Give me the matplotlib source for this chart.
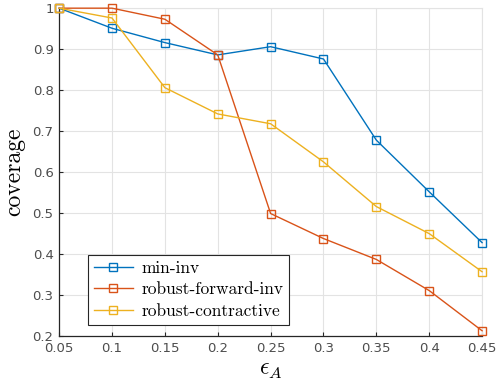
import matplotlib
matplotlib.use("Agg")
import matplotlib.pyplot as plt

plt.rcParams["mathtext.fontset"] = "cm"

eps = [0.05, 0.1, 0.15, 0.2, 0.25, 0.3, 0.35, 0.4, 0.45]
min_inv = [1.0, 0.951, 0.916, 0.886, 0.906, 0.876, 0.678, 0.552, 0.428]
robust_forward_inv = [1.0, 1.0, 0.973, 0.886, 0.499, 0.438, 0.387, 0.311, 0.213]
robust_contractive = [1.0, 0.976, 0.806, 0.742, 0.718, 0.625, 0.516, 0.450, 0.357]

labels = ["min-inv", "robust-forward-inv", "robust-contractive"]
colors = ["#0072BD", "#D95319", "#EDB120"]

fig = plt.figure(figsize=(4.97, 3.89), dpi=100)
ax = fig.add_axes([0.119, 0.136, 0.851, 0.843])

for ys, lab, c in zip([min_inv, robust_forward_inv, robust_contractive], labels, colors):
    ax.plot(eps, ys, color=c, lw=1.0, marker="s", ms=5.5, mfc="none", mec=c,
            mew=1.0, label=lab, clip_on=False, zorder=3)

ax.set_xlim(0.05, 0.45)
ax.set_ylim(0.2, 1.0)
ax.set_xticks(eps)
ax.set_xticklabels([f"{v:g}" for v in eps])
ax.set_yticks([0.2, 0.3, 0.4, 0.5, 0.6, 0.7, 0.8, 0.9, 1.0])
ax.set_yticklabels(["0.2", "0.3", "0.4", "0.5", "0.6", "0.7", "0.8", "0.9", "1"])
ax.grid(True, color="#e3e3e3", lw=0.8)
ax.set_axisbelow(True)
ax.tick_params(direction="in", length=3, labelsize=9.5, colors="#262626",
               labelcolor="#4d4d4d", pad=4)
for s in ["top", "right"]:
    ax.spines[s].set_color("#e3e3e3")
for s in ["left", "bottom"]:
    ax.spines[s].set_color("#262626")
    ax.spines[s].set_linewidth(0.9)

ax.set_xlabel(r"$\epsilon_A$", fontsize=17, labelpad=2)
ax.set_ylabel("coverage", fontsize=17, family="cmr10", labelpad=5)

leg = ax.legend(loc="lower left", bbox_to_anchor=(0.069, 0.034), borderaxespad=0,
                prop={"family": "cmr10", "size": 12.5},
                fancybox=False, edgecolor="#262626", framealpha=1, handlelength=2.2,
                borderpad=0.35, labelspacing=0.35, handletextpad=0.5)
leg.get_frame().set_linewidth(0.8)

fig.savefig("out.png", dpi=100)
